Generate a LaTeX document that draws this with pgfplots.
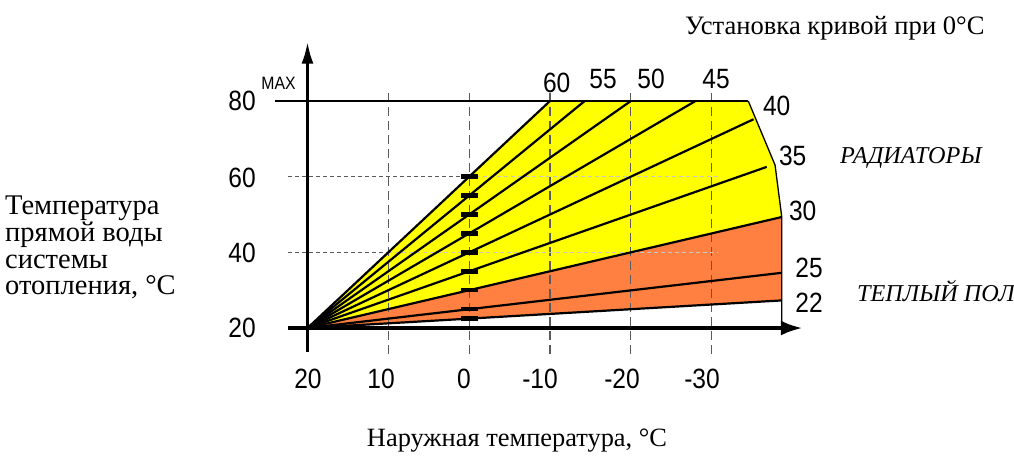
\documentclass[border=0pt]{standalone}
\usepackage{fontspec}
\setmainfont{Liberation Serif}
\newfontfamily\arial[FakeStretch=0.88]{Liberation Sans}
\usepackage{pgfplots}
\pgfplotsset{compat=1.18}
\usetikzlibrary{arrows.meta}
\definecolor{yel}{RGB}{255,255,0}
\definecolor{ora}{RGB}{255,128,64}
\definecolor{dgray}{RGB}{90,90,90}
\definecolor{lgray}{RGB}{200,200,200}
\begin{document}
\begin{tikzpicture}[x=1bp,y=1bp]
\path[use as bounding box] (0,0) rectangle (1014,458);
\begin{axis}[at={(267.1bp,99.7bp)}, anchor=south west, scale only axis,
  width=541.4bp, height=325.3bp, xmin=-42, xmax=25, ymin=12, ymax=98,
  x dir=reverse, hide axis, clip=false]
% fills
\addplot[fill=yel, draw=none] coordinates {(20,20) (-10,80) (-34.55,80) (-37.86,63.1) (-38.69,49.35) (20,20)};
\addplot[fill=ora, draw=none] coordinates {(20,20) (-38.69,49.35) (-38.69,27.3) (20,20)};
% vertical dashed grid
\addplot[dgray, dash pattern=on 9bp off 5bp, line width=1.2bp] coordinates {(10,13.2) (10,82.8)};
\addplot[dgray, dash pattern=on 9bp off 5bp, line width=1.2bp] coordinates {(0,13.2) (0,82.8)};
\addplot[dgray, dash pattern=on 9bp off 5bp, line width=1.2bp] coordinates {(-10,13.2) (-10,82.8)};
\addplot[dgray, dash pattern=on 9bp off 5bp, line width=1.2bp] coordinates {(-20,13.2) (-20,82.8)};
\addplot[dgray, dash pattern=on 9bp off 5bp, line width=1.2bp] coordinates {(-30,13.2) (-30,82.8)};
% horizontal dashed
\addplot[dgray, dash pattern=on 4bp off 3bp, line width=1.2bp] coordinates {(22.4,60) (0,60)};
\addplot[lgray, dash pattern=on 4bp off 3bp, line width=1.2bp] coordinates {(0,60) (-30.8,60)};
\addplot[dgray, dash pattern=on 4bp off 3bp, line width=1.2bp] coordinates {(22.4,40) (10,40)};
\addplot[lgray, dash pattern=on 4bp off 3bp, line width=1.2bp] coordinates {(10,40) (-30.8,40)};
% curves
\addplot[black, line width=2.2bp] coordinates {(20,20) (-10,80)};
\addplot[black, line width=2.2bp] coordinates {(20,20) (-14.29,80)};
\addplot[black, line width=2.2bp] coordinates {(20,20) (-20,80)};
\addplot[black, line width=2.2bp] coordinates {(20,20) (-28,80)};
\addplot[black, line width=2.2bp] coordinates {(20,20) (-35.2,75.2)};
\addplot[black, line width=2.2bp] coordinates {(20,20) (-36.83,62.6)};
\addplot[black, line width=2.2bp] coordinates {(20,20) (-38.69,49.35)};
\addplot[black, line width=2.2bp] coordinates {(20,20) (-38.69,34.6)};
\addplot[black, line width=2.2bp] coordinates {(20,20) (-38.69,27.3)};
% top line and boundary
\addplot[black, line width=2.8bp] coordinates {(24,80) (-34.55,80)};
\addplot[black, line width=1.3bp] coordinates {(-34.55,80) (-37.86,63.1) (-38.69,49.35) (-38.69,20)};
% axes
\addplot[black, line width=4bp, -{Latex[length=22bp,width=15bp]}] coordinates {(22.4,20) (-41.3,20)};
\addplot[black, line width=3bp, -{Latex[length=22bp,width=12bp]}] coordinates {(20,13.66) (20,95.7)};
% setting marks at 0 C
\addplot[black, only marks, mark=-, mark size=8.5bp, mark options={line width=4.5bp}] coordinates {(0,60) (0,55) (0,50) (0,45) (0,40) (0,35) (0,30) (0,25) (0,22.5)};
\end{axis}
% numbers
\begin{scope}[every node/.style={inner sep=0pt, font=\arial\fontsize{28}{32}\selectfont}]
\node[anchor=east] at (256,357) {80};
\node[anchor=east] at (256,280.5) {60};
\node[anchor=east] at (256,204.7) {40};
\node[anchor=east] at (256,130.5) {20};
\node at (308,79) {20};
\node at (381,79) {10};
\node at (464,79) {0};
\node at (540,79) {-10};
\node at (622,79) {-20};
\node at (702,79) {-30};
\node at (556.7,375.5) {60};
\node at (603,379) {55};
\node at (651,379) {50};
\node at (716,379) {45};
\node at (776.7,352.2) {40};
\node at (792.7,302) {35};
\node at (802.7,247) {30};
\node at (809,190.5) {25};
\node at (809,155) {22};
\end{scope}
\node[inner sep=0pt, font=\arial\fontsize{18}{20}\selectfont] at (278.5,374.7) {MAX};
% texts
\begin{scope}[every node/.style={inner sep=0pt, font=\fontsize{28.6}{30}\selectfont}]
\node[anchor=base west, font=\fontsize{26.7}{30}\selectfont] at (685,423) {Установка кривой при 0°C};
\node[anchor=base west] at (5,243) {Температура};
\node[anchor=base west] at (5,216.3) {прямой воды};
\node[anchor=base west] at (5,189.7) {системы};
\node[anchor=base west] at (5,163) {отопления, °C};
\node[anchor=base west, font=\fontsize{24.3}{27}\selectfont\itshape] at (840,294.7) {РАДИАТОРЫ};
\node[anchor=base west, font=\fontsize{24.3}{27}\selectfont\itshape] at (857,156.3) {ТЕПЛЫЙ ПОЛ};
\node[anchor=base, font=\fontsize{26.5}{30}\selectfont] at (517,11) {Наружная температура, °C};
\end{scope}
\end{tikzpicture}
\end{document}
